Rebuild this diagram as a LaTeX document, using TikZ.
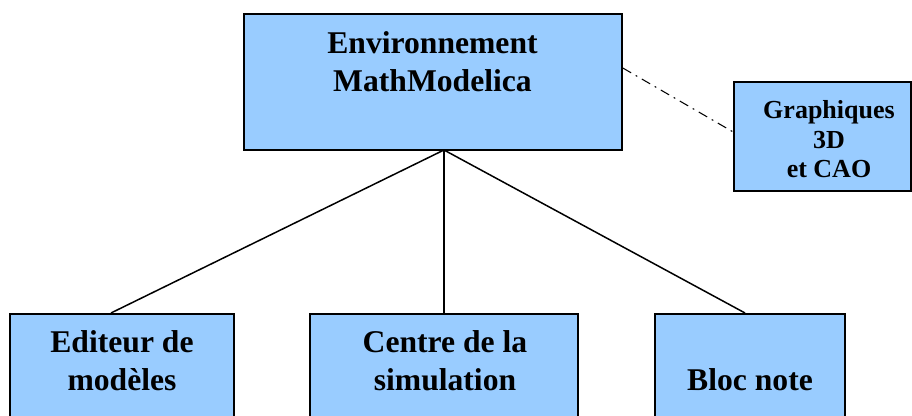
\documentclass[tikz,border=0pt]{standalone}
\usepackage{fontspec}
\setmainfont{Liberation Serif}
\usepackage{tikz}
\definecolor{boxblue}{HTML}{99CCFF}
\tikzset{
  bloc/.style={draw=black, line width=0.9pt, fill=boxblue, inner sep=0pt},
  titre/.style={font=\bfseries\fontsize{18}{21.8}\selectfont, align=center, inner sep=0pt, anchor=base},
  lien/.style={line width=0.85pt}
}

\begin{document}
\begin{tikzpicture}
      \useasboundingbox (0,0) rectangle (18.24,8.32);
      \node[bloc, minimum width=7.56cm, minimum height=2.72cm] (env) at (8.66,6.68) {};
      \node[bloc, minimum width=3.54cm, minimum height=2.18cm] (graph) at (16.45,5.59) {};
      \node[bloc, minimum width=4.48cm, minimum height=2.34cm, anchor=north] (edit) at (2.44,2.06) {};
      \node[bloc, minimum width=5.36cm, minimum height=2.34cm, anchor=north] (sim) at (8.88,2.06) {};
      \node[bloc, minimum width=3.8cm, minimum height=2.34cm, anchor=north] (bloc) at (15.0,2.06) {};
      \node[titre] (envtxt) at (8.65,6.48) {Environnement\\MathModelica};
      \node[titre, font=\bfseries\fontsize{14.8}{17}\selectfont] (graphtxt) at (16.58,4.76) {Graphiques\\3D\\et CAO};
      \node[titre] (edittxt) at (2.44,0.5) {Editeur de\\modèles};
      \node[titre] (simtxt) at (8.9,0.5) {Centre de la\\simulation};
      \node[titre] (bloctxt) at (15.0,0.5) {Bloc note};
      \coordinate (hub) at (8.88,5.32);
      \draw[lien] (hub) -- ([xshift=-0.22cm]edit.north);
      \draw[lien] (hub) -- (sim.north);
      \draw[lien] (hub) -- ([xshift=-0.1cm]bloc.north);
      \draw[line width=0.6pt, dash pattern=on 5.5pt off 3pt on 1pt off 3pt] ([yshift=0.28cm]env.east) -- ([yshift=0.09cm]graph.west);
\end{tikzpicture}
\end{document}
